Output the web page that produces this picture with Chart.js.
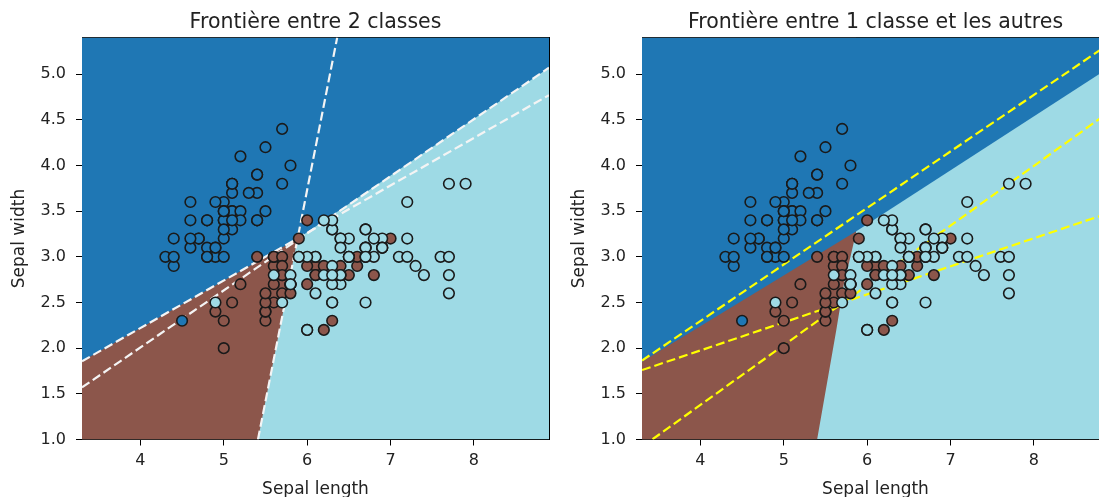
<!DOCTYPE html>
<html>
<head>
<meta charset="utf-8">
<script src="https://cdn.jsdelivr.net/npm/chart.js@4.4.1/dist/chart.umd.min.js"></script>
<style>
  html, body { margin: 0; padding: 0; background: #fff; overflow: hidden; }
  body { width: 1099px; height: 497px; position: relative; }
  .panel { position: absolute; top: 0; width: 560px; height: 500px; }
</style>
</head>
<body>
<div class="panel" style="left:0"><canvas id="twoClasses" width="560" height="500"></canvas></div>
<div class="panel" style="left:560px"><canvas id="oneVsRest" width="560" height="500"></canvas></div>
<script>
// iris, sepal length / sepal width, by class
const setosaX = [5.1,4.9,4.7,4.6,5.0,5.4,4.6,5.0,4.4,4.9,5.4,4.8,4.8,4.3,5.8,5.7,5.4,5.1,5.7,5.1,5.4,5.1,4.6,5.1,4.8,5.0,5.0,5.2,5.2,4.7,4.8,5.4,5.2,5.5,4.9,5.0,5.5,4.9,4.4,5.1,5.0,4.5,4.4,5.0,5.1,4.8,5.1,4.6,5.3,5.0];
const setosaY = [3.5,3.0,3.2,3.1,3.6,3.9,3.4,3.4,2.9,3.1,3.7,3.4,3.0,3.0,4.0,4.4,3.9,3.5,3.8,3.8,3.4,3.7,3.6,3.3,3.4,3.0,3.4,3.5,3.4,3.2,3.1,3.4,4.1,4.2,3.1,3.2,3.5,3.6,3.0,3.4,3.5,2.3,3.2,3.5,3.8,3.0,3.8,3.2,3.7,3.3];
const versicolorX = [7.0,6.4,6.9,5.5,6.5,5.7,6.3,4.9,6.6,5.2,5.0,5.9,6.0,6.1,5.6,6.7,5.6,5.8,6.2,5.6,5.9,6.1,6.3,6.1,6.4,6.6,6.8,6.7,6.0,5.7,5.5,5.5,5.8,6.0,5.4,6.0,6.7,6.3,5.6,5.5,5.5,6.1,5.8,5.0,5.6,5.7,5.7,6.2,5.1,5.7];
const versicolorY = [3.2,3.2,3.1,2.3,2.8,2.8,3.3,2.4,2.9,2.7,2.0,3.0,2.2,2.9,2.9,3.1,3.0,2.7,2.2,2.5,3.2,2.8,2.5,2.8,2.9,3.0,2.8,3.0,2.9,2.6,2.4,2.4,2.7,2.7,3.0,3.4,3.1,2.3,3.0,2.5,2.6,3.0,2.6,2.3,2.7,3.0,2.9,2.9,2.5,2.8];
const virginicaX = [6.3,5.8,7.1,6.3,6.5,7.6,4.9,7.3,6.7,7.2,6.5,6.4,6.8,5.7,5.8,6.4,6.5,7.7,7.7,6.0,6.9,5.6,7.7,6.3,6.7,7.2,6.2,6.1,6.4,7.2,7.4,7.9,6.4,6.3,6.1,7.7,6.3,6.4,6.0,6.9,6.7,6.9,5.8,6.8,6.7,6.7,6.3,6.5,6.2,5.9];
const virginicaY = [3.3,2.7,3.0,2.9,3.0,3.0,2.5,2.9,2.5,3.6,3.2,2.7,3.0,2.5,2.8,3.2,3.0,3.8,2.6,2.2,3.2,2.8,2.8,2.7,3.3,3.2,2.8,3.0,2.8,3.0,2.8,3.8,2.8,2.8,2.6,3.0,3.4,3.1,3.0,3.1,3.1,3.1,2.7,3.2,3.3,3.0,2.5,3.0,3.4,3.0];

const xTicks = [4, 5, 6, 7, 8];
const yTicks = [1.0, 1.5, 2.0, 2.5, 3.0, 3.5, 4.0, 4.5, 5.0];
const xRange = [3.3, 8.9];
const yRange = [1.0, 5.4];

// left panel: pairwise boundaries (white dashed)
const lineAX = [3.3, 8.9], lineAY = [1.856, 4.77];
const lineBX = [3.3, 8.9], lineBY = [1.57, 5.07];
const lineCX = [5.41, 6.36], lineCY = [1.0, 5.4];
// left panel region edges
const leftBlueEdgeX = [3.3, 5.89, 8.9], leftBlueEdgeY = [1.856, 3.2, 5.07];
const leftBrownEdgeX = [3.3, 6.36], leftBrownEdgeY = [-8.77, 5.4];

// right panel: one-vs-rest boundaries (yellow dashed)
const line1X = [3.3, 8.9], line1Y = [1.864, 5.33];
const line2X = [3.3, 8.9], line2Y = [1.76, 3.48];
const line3X = [3.3, 8.9], line3Y = [0.92, 4.585];
// right panel region edges
const rightBlueEdgeX = [3.3, 5.87, 8.9], rightBlueEdgeY = [1.85, 3.28, 5.07];
const rightBrownEdgeX = [3.3, 5.40, 5.63, 5.72, 5.80, 5.87];
const rightBrownEdgeY = [0.9, 1.0, 2.2, 2.7, 3.0, 3.28];

const BLUE = '#1f77b4', BROWN = '#8c564b', LIGHT = '#9edae5';
const FONT = 'DejaVu Sans';

const pts = (xs, ys) => xs.map((x, i) => ({ x: x, y: ys[i] }));

function scatterSet(xs, ys, color) {
  return {
    type: 'scatter', data: pts(xs, ys),
    backgroundColor: color, borderColor: '#1a1a1a', borderWidth: 1.6,
    pointRadius: 5.3, pointHoverRadius: 5.3
  };
}

function dashedSet(xs, ys, color) {
  return {
    type: 'line', data: pts(xs, ys), borderColor: color, borderWidth: 2.2,
    borderDash: [9, 4], pointRadius: 0, fill: false
  };
}

function regionSet(xs, ys, color, fill) {
  return {
    type: 'line', data: pts(xs, ys), borderWidth: 0, borderColor: 'rgba(0,0,0,0)',
    backgroundColor: color, pointRadius: 0, fill: fill
  };
}

function makeOptions(title) {
  const tickFont = { family: FONT, size: 16 };
  const labelFont = { family: FONT, size: 17, lineHeight: 1.2 };
  return {
    responsive: false,
    animation: false,
    events: [],
    layout: { padding: { left: 0, right: 11, top: 0, bottom: 0 } },
    plugins: {
      legend: { display: false },
      tooltip: { enabled: false },
      title: {
        display: true, text: title, fullSize: false, color: '#222',
        font: { family: FONT, size: 20.5, weight: 'normal', lineHeight: 1.2 },
        padding: { top: 10, bottom: 3 }
      }
    },
    scales: {
      x: {
        type: 'linear', position: 'bottom', min: xRange[0], max: xRange[1],
        afterBuildTicks: s => { s.ticks = xTicks.map(v => ({ value: v })); },
        afterFit: s => { s.height = 60.5; },
        ticks: { font: tickFont, color: '#222', padding: 6, maxRotation: 0, callback: v => String(v) },
        grid: { drawOnChartArea: false, tickLength: 6, color: '#000' },
        border: { color: '#000', width: 1 },
        title: { display: true, text: 'Sepal length', color: '#222', font: labelFont, padding: { top: 0, bottom: 0 } }
      },
      y: {
        type: 'linear', position: 'left', min: yRange[0], max: yRange[1],
        afterBuildTicks: s => { s.ticks = yTicks.map(v => ({ value: v })); },
        afterFit: s => { s.width = 82; },
        ticks: { font: tickFont, color: '#222', padding: 10, callback: v => v.toFixed(1) },
        grid: { drawOnChartArea: false, tickLength: 6, color: '#000' },
        border: { color: '#000', width: 1 },
        title: { display: true, text: 'Sepal width', color: '#222', font: labelFont, padding: { top: 9, bottom: 0 } }
      },
      x2: {
        type: 'linear', position: 'top', min: xRange[0], max: xRange[1],
        ticks: { display: false }, grid: { display: false, drawTicks: false },
        border: { color: '#000', width: 1 }, afterFit: s => { s.height = 0; }
      },
      y2: {
        type: 'linear', position: 'right', min: yRange[0], max: yRange[1],
        ticks: { display: false }, grid: { display: false, drawTicks: false },
        border: { color: '#000', width: 1 }, afterFit: s => { s.width = 0; }
      }
    }
  };
}

const bgX = [xRange[0], xRange[1]], bgY = [yRange[0], yRange[0]];

new Chart(document.getElementById('twoClasses'), {
  type: 'scatter',
  data: {
    datasets: [
      scatterSet(virginicaX, virginicaY, LIGHT),
      scatterSet(versicolorX, versicolorY, BROWN),
      scatterSet(setosaX, setosaY, BLUE),
      dashedSet(lineAX, lineAY, '#f4f4f4'),
      dashedSet(lineBX, lineBY, '#f4f4f4'),
      dashedSet(lineCX, lineCY, '#f4f4f4'),
      regionSet(leftBlueEdgeX, leftBlueEdgeY, BLUE, 'end'),
      regionSet(leftBrownEdgeX, leftBrownEdgeY, BROWN, 'end'),
      regionSet(bgX, bgY, LIGHT, 'end')
    ]
  },
  options: makeOptions('Frontière entre 2 classes')
});

new Chart(document.getElementById('oneVsRest'), {
  type: 'scatter',
  data: {
    datasets: [
      scatterSet(virginicaX, virginicaY, LIGHT),
      scatterSet(versicolorX, versicolorY, BROWN),
      scatterSet(setosaX, setosaY, BLUE),
      dashedSet(line1X, line1Y, '#ffff00'),
      dashedSet(line2X, line2Y, '#ffff00'),
      dashedSet(line3X, line3Y, '#ffff00'),
      regionSet(rightBlueEdgeX, rightBlueEdgeY, BLUE, 'end'),
      regionSet(rightBrownEdgeX, rightBrownEdgeY, BROWN, 'end'),
      regionSet(bgX, bgY, LIGHT, 'end')
    ]
  },
  options: makeOptions('Frontière entre 1 classe et les autres')
});
</script>
</body>
</html>
